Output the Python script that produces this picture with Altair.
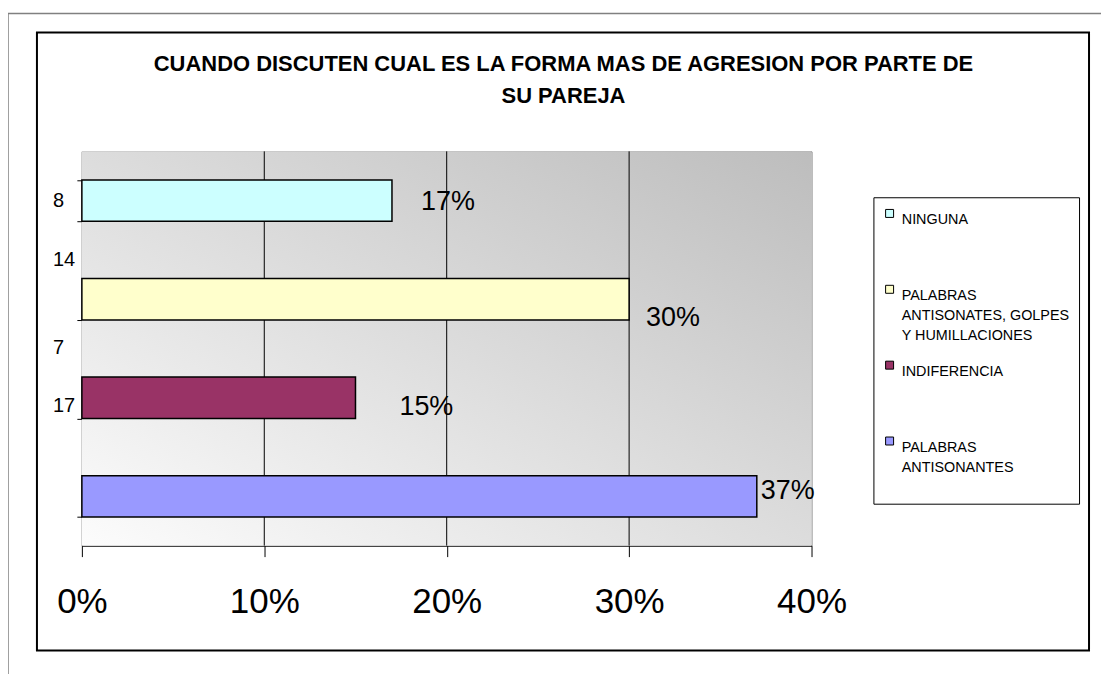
import json
import altair as alt
import pandas as pd

# ---------------- data ----------------
categories = [
    "NINGUNA",
    "PALABRAS ANTISONATES, GOLPES Y HUMILLACIONES",
    "INDIFERENCIA",
    "PALABRAS ANTISONANTES",
]
counts = [8, 14, 7, 17]
percents = [0.17, 0.30, 0.15, 0.37]
colors = ["#CCFFFF", "#FFFFCC", "#993366", "#9999FF"]
legend_lines = [
    ["NINGUNA"],
    ["PALABRAS", "ANTISONATES, GOLPES", "Y HUMILLACIONES"],
    ["INDIFERENCIA"],
    ["PALABRAS", "ANTISONANTES", ""],
]
x_ticks = [0, 0.1, 0.2, 0.3, 0.4]
grid_ticks = [0.1, 0.2, 0.3]
title_lines = [
    "CUANDO DISCUTEN CUAL ES LA FORMA MAS DE AGRESION POR PARTE DE",
    "SU PAREJA",
]

# ---------------- styles ----------------
FONT = "Liberation Sans"
pct_label_offsets = [(29, 1), (17, 19), (44, 9), (4, -5)]   # (dx, dy) per row
count_label_dy = [0, -39, -50, -90]

df = pd.DataFrame({"cat": categories, "count": counts, "pct": percents})
one = pd.DataFrame({"k": [0]})

xscale = alt.Scale(domain=[0, 0.4], nice=False, zero=True)
xaxis = alt.Axis(
    values=x_ticks, format=".0%", labelFontSize=35, labelFont=FONT,
    labelColor="black", tickColor="black", tickSize=11, domainColor="black",
    labelPadding=28, grid=False, title=None, labelFlush=False,
)
yscale = alt.Scale(domain=categories, paddingInner=0.58, paddingOuter=0.29)
yaxis = alt.Axis(
    labels=False, title=None, tickBand="extent", tickSize=5,
    tickColor="black", domainColor="black", grid=False,
)


def X(field):
    return alt.X(field, type="quantitative", scale=xscale, axis=xaxis)


Y = alt.Y("cat:N", scale=yscale, axis=yaxis, sort=categories)

label_expr = " : ".join(
    f"datum.label == {json.dumps(c)} ? {json.dumps(l)}"
    for c, l in zip(categories, legend_lines)
) + " : datum.label"

legend = alt.Legend(
    title=None, orient="none", legendX=793, legendY=46, direction="vertical",
    fillColor="white", strokeColor="black", padding=9, cornerRadius=0,
    symbolType="square", symbolSize=64, symbolStrokeColor="black",
    symbolStrokeWidth=1, labelFont=FONT, labelFontSize=14.4, labelColor="black",
    labelLimit=400, labelExpr=label_expr, labelBaseline="top",
    gridAlign="all", rowPadding=15, labelOffset=5,
)

bg = alt.Chart(one).mark_rect(
    fill=alt.Gradient(
        gradient="linear",
        stops=[alt.GradientStop(color="#fcfcfc", offset=0),
               alt.GradientStop(color="#bdbdbd", offset=1)],
        x1=0, y1=1, x2=1, y2=0,
    )
).encode(x=alt.value(0), x2=alt.value("width"), y=alt.value(0), y2=alt.value("height"))

grid = alt.Chart(pd.DataFrame({"t": grid_ticks})).mark_rule(
    color="black", strokeWidth=1
).encode(x=X("t"))

bars = alt.Chart(df).mark_bar(stroke="black", strokeWidth=1.5).encode(
    x=X("pct"), y=Y,
    color=alt.Color("cat:N", scale=alt.Scale(domain=categories, range=colors), legend=legend),
)

layers = [bg, grid, bars]
for i, c in enumerate(categories):
    dx, dy = pct_label_offsets[i]
    layers.append(
        alt.Chart(df).transform_filter(alt.datum.cat == c).mark_text(
            align="left", baseline="middle", dx=dx, dy=dy, fontSize=27,
            font=FONT, color="black",
        ).encode(x=X("pct"), y=Y, text=alt.Text("pct:Q", format=".0%"))
    )
    layers.append(
        alt.Chart(df).transform_filter(alt.datum.cat == c).mark_text(
            align="left", baseline="middle", dy=count_label_dy[i], fontSize=20,
            font=FONT, color="black",
        ).encode(x=alt.value(-29), y=Y, text="count:Q")
    )

inner_box = alt.Chart(one).mark_rect(
    fillOpacity=0, stroke="black", strokeWidth=2
).encode(x=alt.value(-45), x2=alt.value(1009), y=alt.value(-119), y2=alt.value(500))
page_frame = alt.Chart(one).mark_rect(
    fillOpacity=0, stroke="#808080", strokeWidth=1.5
).encode(x=alt.value(-74), x2=alt.value(1100), y=alt.value(-138), y2=alt.value(560))
layers += [inner_box, page_frame]

chart = alt.layer(*layers).properties(
    width=731, height=395,
    title=alt.TitleParams(
        text=title_lines, fontSize=22, fontWeight="bold", font=FONT,
        anchor="middle", dx=117, offset=-95, lineHeight=32, color="black",
    ),
    padding={"left": 74, "top": 143, "right": 290, "bottom": 128},
    autosize=alt.AutoSizeParams(type="none"),
).configure(
    style={"guide-label": {"lineHeight": 20}}
).configure_view(stroke="#808080", strokeWidth=1)

chart.save("out.html", embed_options={"renderer": "svg", "actions": False})
